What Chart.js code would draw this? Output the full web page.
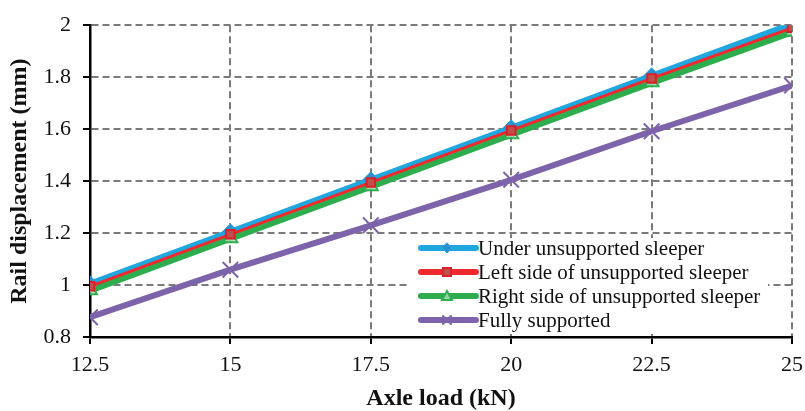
<!DOCTYPE html>
<html><head><meta charset="utf-8">
<script src="https://cdn.jsdelivr.net/npm/chart.js@4/dist/chart.umd.min.js"></script>
<style>html,body{margin:0;padding:0;background:#fff}#wrap{width:805px;height:411px}</style>
</head><body><div id="wrap"><canvas id="c" width="805" height="411"></canvas></div>
<script>
const axleLoads = [12.5, 15, 17.5, 20, 22.5, 25];
const underUnsupported = [1.005, 1.205, 1.405, 1.605, 1.805, 2.005];
const leftSide = [0.995, 1.195, 1.395, 1.595, 1.795, 1.99];
const rightSide = [0.98, 1.18, 1.38, 1.58, 1.78, 1.975];
const fullySupported = [0.876, 1.059, 1.23, 1.405, 1.592, 1.768];
const seriesNames = ["Under unsupported sleeper", "Left side of unsupported sleeper", "Right side of unsupported sleeper", "Fully supported"];
const yTicks = [0.8, 1, 1.2, 1.4, 1.6, 1.8, 2];
const xTitle = "Axle load (kN)";
const yTitle = "Rail displacement (mm)";

const pts = arr => arr.map((v, i) => ({x: axleLoads[i], y: v}));
const FONT = "'Liberation Serif', 'Times New Roman', serif";

const datasets = [
  {label: seriesNames[0], data: pts(underUnsupported), order: 4, borderColor: '#1FA8DF', backgroundColor: '#2E8FD0', borderWidth: 6, pointStyle: 'rectRot', pointRadius: 8, pointBorderColor: '#1FA8DF', pointBorderWidth: 1},
  {label: seriesNames[1], data: pts(leftSide), order: 2, borderColor: '#EE2A2E', backgroundColor: '#C0504D', borderWidth: 3, pointStyle: 'rect', pointRadius: 6, pointBorderColor: '#D8202A', pointBorderWidth: 2},
  {label: seriesNames[2], data: pts(rightSide), order: 3, borderColor: '#2EAD4F', backgroundColor: 'rgba(255,255,255,0.5)', borderWidth: 7, pointStyle: 'triangle', pointRadius: 8, pointBorderColor: '#2EAD4F', pointBorderWidth: 2},
  {label: seriesNames[3], data: pts(fullySupported), order: 1, borderColor: '#7D63AA', backgroundColor: '#7D63AA', borderWidth: 6, pointStyle: 'crossRot', pointRadius: 11, pointBorderColor: '#7D63AA', pointBorderWidth: 2}
];

const legendPlugin = {
  id: 'customLegend',
  beforeDatasetsDraw(chart) {
    const ctx = chart.ctx;
    ctx.save();
    ctx.fillStyle = '#fff';
    ctx.fillRect(408, 238, 360, 96);
    ctx.restore();
  },
  afterDraw(chart) {
    const ctx = chart.ctx;
    ctx.save();
    const rowY = [248, 272, 296, 320];
    chart.data.datasets.forEach((ds, i) => {
      const y = rowY[i];
      ctx.strokeStyle = ds.borderColor;
      ctx.lineWidth = 6;
      ctx.lineCap = 'round';
      ctx.beginPath(); ctx.moveTo(421, y); ctx.lineTo(476, y); ctx.stroke();
      ctx.fillStyle = ds.backgroundColor;
      ctx.strokeStyle = ds.pointBorderColor;
      ctx.lineWidth = ds.pointBorderWidth;
      ctx.beginPath();
      const cx = 447, r = 5;
      if (ds.pointStyle === 'rectRot') { ctx.moveTo(cx, y - r); ctx.lineTo(cx + r, y); ctx.lineTo(cx, y + r); ctx.lineTo(cx - r, y); ctx.closePath(); ctx.fill(); ctx.stroke(); }
      else if (ds.pointStyle === 'rect') { ctx.rect(cx - 4, y - 4, 8, 8); ctx.fill(); ctx.stroke(); }
      else if (ds.pointStyle === 'triangle') { ctx.moveTo(cx, y - 5); ctx.lineTo(cx + 5, y + 4); ctx.lineTo(cx - 5, y + 4); ctx.closePath(); ctx.fill(); ctx.stroke(); }
      else { ctx.moveTo(cx - 4, y - 4); ctx.lineTo(cx + 4, y + 4); ctx.moveTo(cx + 4, y - 4); ctx.lineTo(cx - 4, y + 4); ctx.stroke(); }
      ctx.fillStyle = '#111';
      ctx.font = "21px " + FONT;
      ctx.textBaseline = 'middle';
      ctx.textAlign = 'left';
      ctx.fillText(ds.label, 478, y + 1);
    });
    ctx.restore();
  }
};

const gridOpts = {color: '#7a7a7a', lineWidth: 2, tickLength: 7, tickColor: '#000', tickBorderDash: [], tickWidth: 2};

new Chart(document.getElementById('c'), {
  type: 'line',
  data: {datasets},
  plugins: [legendPlugin],
  options: {
    responsive: false,
    animation: false,
    devicePixelRatio: 1,
    layout: {padding: {top: 23, right: 13, left: 0, bottom: 0}},
    plugins: {legend: {display: false}, tooltip: {enabled: false}},
    elements: {line: {tension: 0}},
    scales: {
      x: {
        type: 'linear', min: 12.5, max: 25,
        afterBuildTicks: s => { s.ticks = axleLoads.map(v => ({value: v})); },
        afterFit: s => { s.height = 74; s.paddingRight = 0; s.paddingLeft = 0; },
        ticks: {color: '#111', font: {family: FONT, size: 22}, padding: 8, maxRotation: 0, callback: v => String(v)},
        grid: gridOpts,
        border: {color: '#000', width: 2.5, dash: [7, 4]},
        title: {display: true, text: xTitle, color: '#111', font: {family: FONT, size: 24, weight: 'bold', lineHeight: 1}, padding: {top: 5, bottom: 0}}
      },
      y: {
        type: 'linear', min: 0.8, max: 2,
        afterBuildTicks: s => { s.ticks = yTicks.map(v => ({value: v})); },
        afterFit: s => { s.width = 90; },
        ticks: {color: '#111', font: {family: FONT, size: 22}, padding: 12, callback: v => String(+v.toFixed(1))},
        grid: gridOpts,
        border: {color: '#000', width: 2.5, dash: [7, 4]},
        title: {display: true, text: yTitle, color: '#111', font: {family: FONT, size: 24, weight: 'bold', lineHeight: 1}, padding: {top: 8, bottom: 0}}
      }
    }
  }
});
</script></body></html>
